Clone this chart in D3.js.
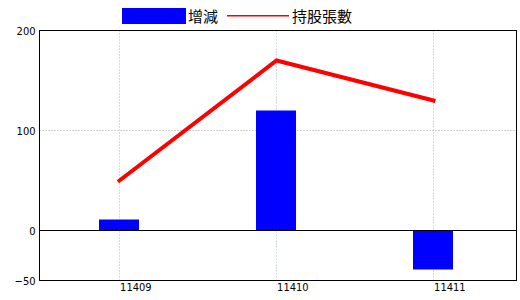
<!DOCTYPE html>
<html>
<head>
<meta charset="utf-8">
<script src="https://cdn.jsdelivr.net/npm/d3@7"></script>
<style>
  body { margin: 0; background: #fff; }
  .tick text { font-family: "DejaVu Sans Condensed", "DejaVu Sans", sans-serif; font-size: 11px; fill: #000; }
  .legend text { font-family: "Noto Sans CJK TC", sans-serif; font-size: 15px; fill: #000; }
</style>
</head>
<body>
<svg width="520" height="300"></svg>
<script>
var months = ["11409", "11410", "11411"],
    change = [11, 120, -39],
    shares = [50, 170, 130],
    yTicks = [-50, 0, 100, 200];

var svg = d3.select("svg"),
    pLeft = 39.5, pRight = 516.5, pTop = 30.5, pBottom = 280.5;

var x = d3.scaleBand()
    .domain(months)
    .range([40.5, 511.5]);

var y = d3.scaleLinear()
    .domain([-50, 200])
    .range([pBottom, pTop]);

function cx(d) { return Math.round(x(d) + x.bandwidth() / 2) + 0.5; }

// dotted grid
svg.selectAll(".vgrid")
    .data(months)
  .enter().append("line")
    .attr("x1", cx).attr("x2", cx)
    .attr("y1", pTop).attr("y2", pBottom)
    .attr("stroke", "#a8b8c8")
    .attr("stroke-dasharray", "1,2");

svg.selectAll(".hgrid")
    .data([100])
  .enter().append("line")
    .attr("x1", pLeft).attr("x2", pRight)
    .attr("y1", function(d) { return y(d); })
    .attr("y2", function(d) { return y(d); })
    .attr("stroke", "#a0a0a0")
    .attr("stroke-dasharray", "1,2");

// bars
svg.selectAll(".bar")
    .data(change)
  .enter().append("rect")
    .attr("x", function(d, i) { return cx(months[i]) - 20.5; })
    .attr("width", 40)
    .attr("y", function(d) { return y(Math.max(0, d)); })
    .attr("height", function(d) { return Math.abs(y(d) - y(0)); })
    .attr("fill", "#0000ff");

// zero line
svg.append("line")
    .attr("x1", pLeft).attr("x2", pRight)
    .attr("y1", y(0)).attr("y2", y(0))
    .attr("stroke", "#000");

// line
var line = d3.line()
    .x(function(d, i) { return cx(months[i]); })
    .y(function(d) { return y(d); });

svg.append("path")
    .datum(shares)
    .attr("d", line)
    .attr("fill", "none")
    .attr("stroke", "#ff0000")
    .attr("stroke-width", 4)
    .attr("stroke-linecap", "square");

// frame
svg.append("rect")
    .attr("x", pLeft).attr("y", pTop)
    .attr("width", pRight - pLeft).attr("height", pBottom - pTop)
    .attr("fill", "none")
    .attr("stroke", "#000");

// axes
var yAxis = svg.append("g")
    .attr("transform", "translate(" + pLeft + ",0)")
    .call(d3.axisLeft(y).tickValues(yTicks).tickSize(0).tickPadding(4));
yAxis.select(".domain").remove();

var xAxis = svg.append("g")
    .attr("transform", "translate(0," + pBottom + ")")
    .call(d3.axisBottom(x).tickSize(0).tickPadding(3));
xAxis.select(".domain").remove();
xAxis.selectAll(".tick text").attr("text-anchor", "start").attr("dx", "0.1em");

// legend
var legend = svg.append("g").attr("class", "legend");
legend.append("rect")
    .attr("x", 122).attr("y", 8).attr("width", 64).attr("height", 16)
    .attr("fill", "#0000ff");
legend.append("text").attr("x", 188).attr("y", 22).text("增減");
legend.append("rect")
    .attr("x", 227).attr("y", 15).attr("width", 62).attr("height", 1.5)
    .attr("fill", "#ff0000");
legend.append("text").attr("x", 292).attr("y", 22).text("持股張數");
</script>
</body>
</html>
